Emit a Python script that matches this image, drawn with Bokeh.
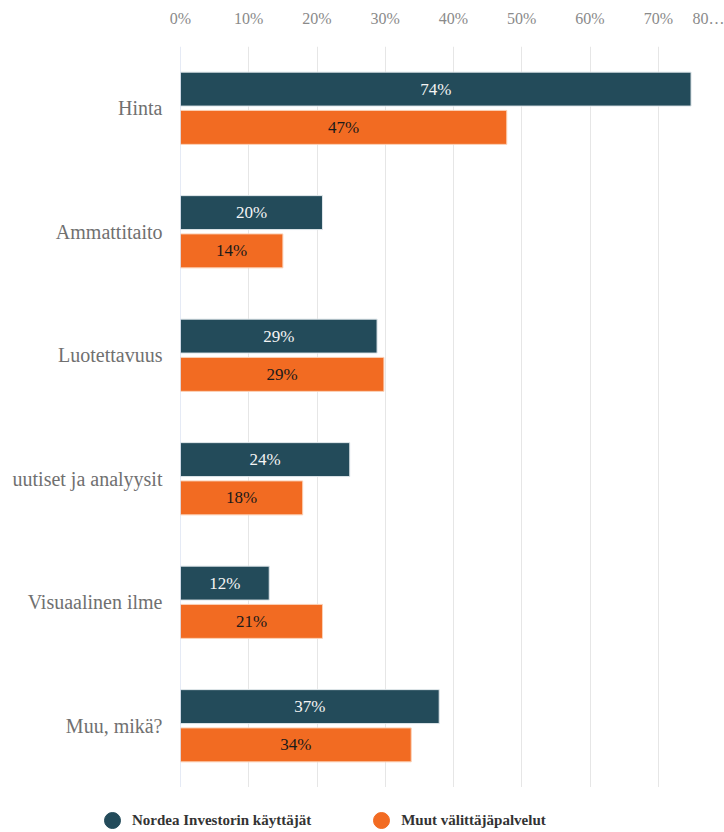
from bokeh.plotting import figure
from bokeh.layouts import column
from bokeh.models import (ColumnDataSource, FactorRange, FixedTicker, Legend, LegendItem,
                          Span, LabelSet, Range1d)
from bokeh.transform import dodge
from bokeh.embed import file_html
from bokeh.resources import INLINE

categories = ["Hinta", "Ammattitaito", "Luotettavuus", "uutiset ja analyysit",
              "Visuaalinen ilme", "Muu, mikä?"]
nordea = [74.8, 20.8, 28.8, 24.8, 13.0, 37.9]
muut = [47.8, 15.0, 29.8, 17.9, 20.8, 33.8]
nordea_labels = ["74%", "20%", "29%", "24%", "12%", "37%"]
muut_labels = ["47%", "14%", "29%", "18%", "21%", "34%"]
series_names = ["Nordea Investorin käyttäjät", "Muut välittäjäpalvelut"]
x_grid_ticks = [0, 10, 20, 30, 40, 50, 60, 70, 80]
x_label_ticks = [0, 10, 20, 30, 40, 50, 60, 70, 77.6]
x_tick_labels = ["0%", "10%", "20%", "30%", "40%", "50%", "60%", "70%", "80…"]

TEAL = "#234b5a"
ORANGE = "#f26b22"
FONT = "Liberation Serif, Times New Roman, serif"

src = ColumnDataSource(dict(
    cat=categories, nordea=nordea, muut=muut,
    nordea_mid=[v / 2 for v in nordea], muut_mid=[v / 2 for v in muut],
    nordea_lab=nordea_labels, muut_lab=muut_labels,
))

p = figure(width=724, height=787, output_backend="svg", toolbar_location=None,
           y_range=FactorRange(factors=list(reversed(categories)), range_padding=0),
           x_range=(0, 79.7), x_axis_location="above")
p.min_border_left = 180
p.min_border_right = 0
p.min_border_top = 46
p.min_border_bottom = 0
p.outline_line_color = None

p.hbar(y=dodge("cat", 0.155, range=p.y_range), right="nordea", left=0, height=0.275,
       source=src, fill_color=TEAL, line_color="#dfe6ea", line_width=1)
p.hbar(y=dodge("cat", -0.155, range=p.y_range), right="muut", left=0, height=0.275,
       source=src, fill_color=ORANGE, line_color="#fbd0b5", line_width=1)

l1 = LabelSet(x="nordea_mid", y=dodge("cat", 0.155, range=p.y_range), text="nordea_lab",
              source=src, text_align="center", text_baseline="middle",
              text_font=FONT, text_font_size="17px", text_color="#f4f4f4")
l2 = LabelSet(x="muut_mid", y=dodge("cat", -0.155, range=p.y_range), text="muut_lab",
              source=src, text_align="center", text_baseline="middle",
              text_font=FONT, text_font_size="17px", text_color="#1a1a1a")
p.add_layout(l1)
p.add_layout(l2)

# grid
p.ygrid.grid_line_color = None
p.xgrid.ticker = FixedTicker(ticks=x_grid_ticks)
p.xgrid.grid_line_color = "#e6e6e6"
p.xgrid.grid_line_width = 1
p.add_layout(Span(location=0, dimension="height", line_color="#ccd6eb", line_width=1))

# top axis
xa = p.xaxis[0]
xa.ticker = FixedTicker(ticks=x_label_ticks)
xa.major_label_overrides = {t: lab for t, lab in zip(x_label_ticks, x_tick_labels)}
xa.axis_line_color = None
xa.major_tick_line_color = None
xa.minor_tick_line_color = None
xa.major_tick_out = 0
xa.minor_tick_out = 0
xa.major_label_text_font = FONT
xa.major_label_text_font_size = "16px"
xa.major_label_text_color = "#8a8a8a"
xa.major_label_standoff = 20

ya = p.yaxis[0]
ya.axis_line_color = None
ya.major_tick_line_color = None
ya.minor_tick_line_color = None
ya.major_tick_out = 0
ya.minor_tick_out = 0
ya.major_label_text_font = FONT
ya.major_label_text_font_size = "20px"
ya.major_label_text_color = "#707070"
ya.major_label_standoff = 18

# legend strip below the chart
lf = figure(width=724, height=45, output_backend="svg", toolbar_location=None,
            x_range=Range1d(0, 1), y_range=Range1d(0, 1))
lf.min_border = 0
lf.frame_align = False
lf.axis.visible = False
lf.grid.grid_line_color = None
lf.outline_line_color = None
nan = float("nan")
m1 = lf.scatter(x=[nan], y=[nan], marker="circle", size=16, fill_color=TEAL, line_color=TEAL)
m2 = lf.scatter(x=[nan], y=[nan], marker="circle", size=16, fill_color=ORANGE, line_color=ORANGE)
legend = Legend(items=[LegendItem(label=series_names[0], renderers=[m1]),
                       LegendItem(label=series_names[1], renderers=[m2])],
                orientation="horizontal", location=(92, -8),
                label_text_font=FONT, label_text_font_size="15px",
                label_text_font_style="bold", label_text_color="#333333",
                glyph_width=40, glyph_height=40, spacing=50, label_standoff=-10,
                border_line_color=None, background_fill_alpha=0, padding=0, margin=0)
lf.add_layout(legend)

layout = column(p, lf, spacing=0)
open("out.html", "w").write(file_html(layout, INLINE))
